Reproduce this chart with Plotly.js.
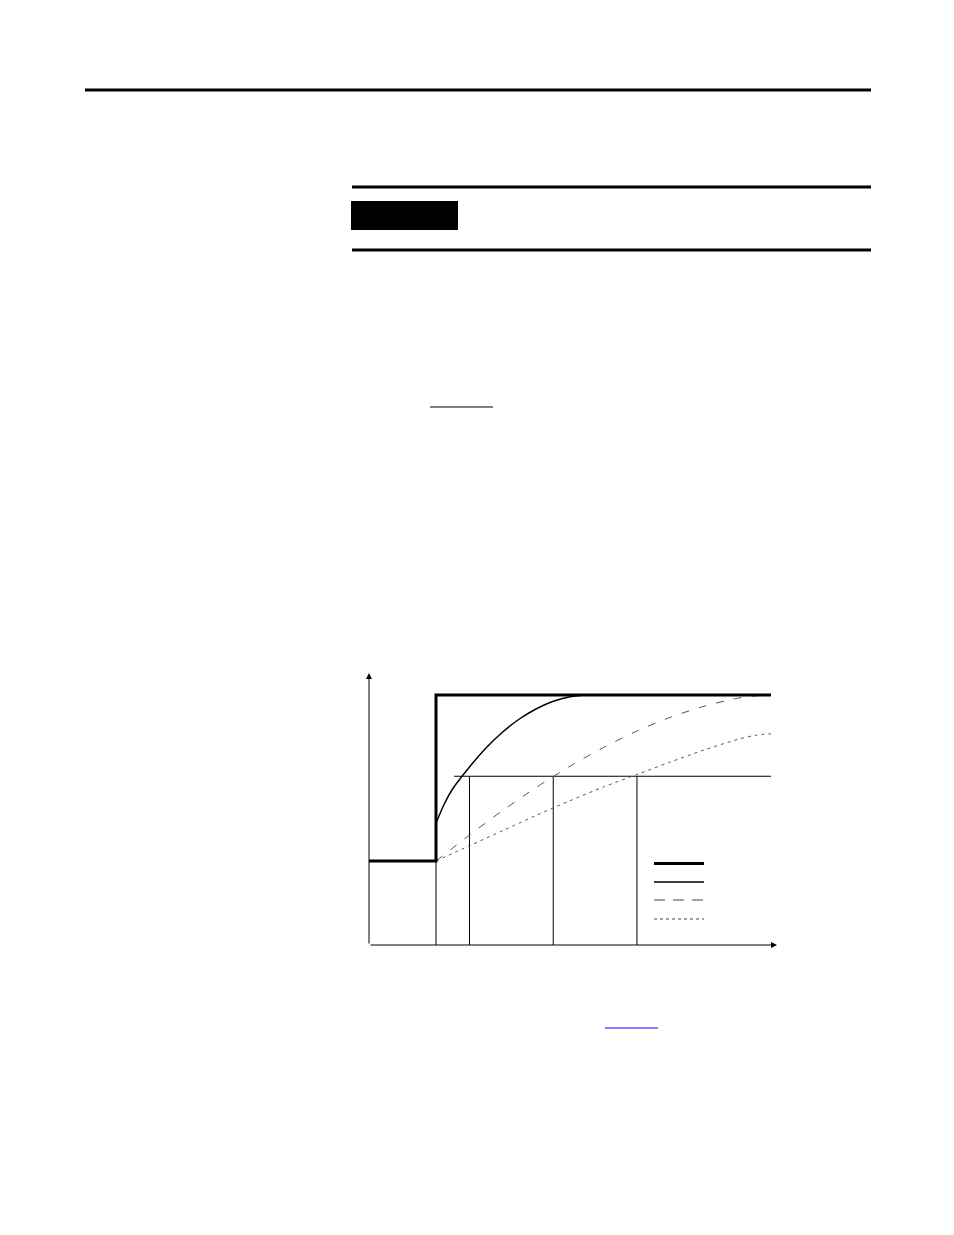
<!DOCTYPE html>
<html>
<head>
<meta charset="utf-8">
<script src="https://cdn.plot.ly/plotly-3.0.1.min.js"></script>
<style>
  html, body { margin: 0; padding: 0; background: #fff; }
  #plot { width: 954px; height: 1235px; }
</style>
</head>
<body>
<div id="plot"></div>
<script type="text/javascript">

    /* * Data - step input and three responses * */
    var step_time = [0, 2, 2, 12];
    var step_value = [33.6, 33.6, 100, 100];

    var fast_time = [2, 2.25, 2.5, 3, 3.5, 4, 4.5, 5, 5.5, 6, 6.5, 7, 12];
    var fast_value = [48.7, 56.5, 62.5, 71.2, 78.9, 85.3, 90.5, 94.5, 97.5, 99.3, 100, 100, 100];

    var medium_time = [2, 3, 4, 5, 6, 7, 8, 9, 10, 11, 11.5, 12];
    var medium_value = [33.6, 44.0, 53.9, 63.1, 71.5, 79.0, 85.6, 91.1, 95.5, 98.7, 99.6, 100];

    var slow_time = [2, 3, 4, 5, 6, 7, 8, 9, 10, 11, 11.5, 12];
    var slow_value = [33.6, 39.7, 45.8, 51.9, 57.7, 63.2, 68.2, 73.2, 78.0, 82.2, 83.8, 84.5];

    /* * Threshold and marker times * */
    var threshold_value = 67.5;
    var threshold_start = 2.54;
    var threshold_end = 12;
    var marker_times = [2, 3, 5.5, 8];
    var marker_tops = [33.6, 67.5, 67.5, 67.5];

    /* * Axis extents * */
    var x_max = 12.18;
    var y_max = 108.8;

    /* * Utilities - page pixel to paper coordinates * */
    var plot_left = 369, plot_right = 777, plot_top = 673, plot_bottom = 945;
    var px = function(x) { return (x - plot_left) / (plot_right - plot_left); };
    var py = function(y) { return (plot_bottom - y) / (plot_bottom - plot_top); };

    var hline = function(x0, x1, y, w, color, dash) {
        return { type: 'line', xref: 'paper', yref: 'paper',
                 x0: px(x0), x1: px(x1), y0: py(y), y1: py(y),
                 line: { color: color || '#000', width: w, dash: dash || 'solid' } };
    };

    var data = [];

    // vertical marker lines
    for (var i = 0; i < marker_times.length; i++) {
        data.push({
            x: [marker_times[i], marker_times[i]],
            y: [0, marker_tops[i]],
            mode: 'lines', line: { color: '#000', width: 1 },
            hoverinfo: 'skip'
        });
    }

    // threshold line
    data.push({
        x: [threshold_start, threshold_end],
        y: [threshold_value, threshold_value],
        mode: 'lines', line: { color: '#000', width: 1.2 },
        hoverinfo: 'skip'
    });

    data.push({ x: slow_time, y: slow_value, mode: 'lines', line: { color: '#555', width: 1, dash: '3px,4px', shape: 'spline', smoothing: 0.8 } });
    data.push({ x: medium_time, y: medium_value, mode: 'lines', line: { color: '#555', width: 1, dash: '8px,10px', shape: 'spline', smoothing: 0.8 } });
    data.push({ x: fast_time, y: fast_value, mode: 'lines', line: { color: '#000', width: 1.5, shape: 'spline', smoothing: 0.8 } });
    data.push({ x: step_time, y: step_value, mode: 'lines', line: { color: '#000', width: 3 } });

    var shapes = [
        hline(85, 871, 90, 3),
        hline(352, 871, 187, 3),
        hline(352, 871, 250, 3),
        { type: 'rect', xref: 'paper', yref: 'paper', x0: px(351), x1: px(458), y0: py(230), y1: py(201),
          fillcolor: '#000', line: { width: 0 } },
        hline(430, 493, 407, 1.2),
        hline(605, 658, 1028, 1.2, '#0000ff'),
        // legend samples
        hline(654, 704, 863.5, 3),
        hline(654, 704, 882, 1.5),
        hline(654, 704, 900, 1, '#444', '11px,8px'),
        hline(654, 704, 919, 1, '#444', '3px,3px')
    ];

    var annotations = [
        { x: x_max, y: 0, ax: 0, ay: 0, axref: 'x', ayref: 'y', xref: 'x', yref: 'y',
          text: '', showarrow: true, arrowhead: 2, arrowsize: 1.2, arrowwidth: 1, arrowcolor: '#000', standoff: 0 },
        { x: 0, y: y_max, ax: 0, ay: 0, axref: 'x', ayref: 'y', xref: 'x', yref: 'y',
          text: '', showarrow: true, arrowhead: 2, arrowsize: 1.2, arrowwidth: 1, arrowcolor: '#000', standoff: 0 }
    ];

    var layout = {
        width: 954, height: 1235,
        margin: { l: plot_left, r: 954 - plot_right, t: plot_top, b: 1235 - plot_bottom, pad: 0 },
        paper_bgcolor: '#fff', plot_bgcolor: '#fff',
        showlegend: false,
        xaxis: { range: [0, x_max], showgrid: false, zeroline: false, showticklabels: false, ticks: '', showline: false, fixedrange: true },
        yaxis: { range: [0, y_max], showgrid: false, zeroline: false, showticklabels: false, ticks: '', showline: false, fixedrange: true },
        shapes: shapes,
        annotations: annotations
    };

    Plotly.newPlot('plot', data, layout, { displayModeBar: false, staticPlot: true });

</script>
</body>
</html>
